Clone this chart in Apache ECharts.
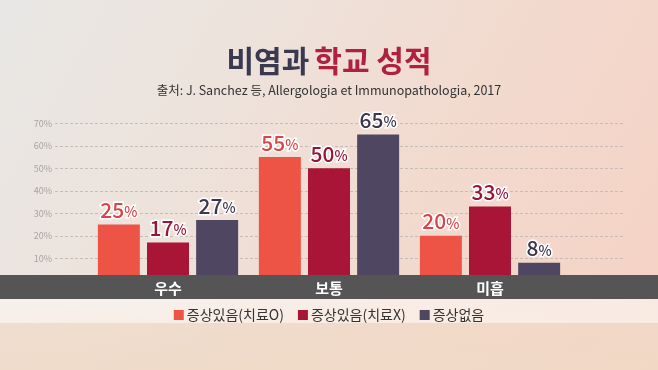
<!DOCTYPE html>
<html>
<head>
<meta charset="utf-8">
<script src="https://cdn.jsdelivr.net/npm/echarts@6/dist/echarts.min.js"></script>
<style>
html,body{margin:0;padding:0;}
#chart{width:658px;height:370px;}
</style>
</head>
<body>
<div id="chart"></div>
<script>
const categories = ['우수', '보통', '미흡'];
const seriesNames = ['증상있음(치료O)', '증상있음(치료X)', '증상없음'];
const treatedValues = [25, 55, 20];
const untreatedValues = [17, 50, 33];
const noSymptomValues = [27, 65, 8];
const yTickMax = 70;
const yTickStep = 10;

const barColors = ['#EE5446', '#A81537', '#4F4762'];
const labelColors = ['#D9464A', '#96163A', '#3C374B'];
const FONT = '"Noto Sans CJK KR", "Noto Sans", sans-serif';

const gridTop = 123.3, gridBottom = 370 - 280.8;

function makeSeries(name, values, idx) {
  return {
    name: name,
    type: 'bar',
    xAxisIndex: 0,
    yAxisIndex: 0,
    data: values,
    barWidth: 42,
    barGap: '17%',
    itemStyle: { color: barColors[idx] },
    z: 2,
    label: {
      show: true,
      position: 'top',
      distance: 4,
      formatter: function (p) { return '{n|' + p.value + '}{p|%}'; },
      textBorderColor: '#ffffff',
      textBorderWidth: 3,
      rich: {
        n: { fontFamily: FONT, fontSize: 21, fontWeight: 500, color: labelColors[idx], textBorderColor: '#fff', textBorderWidth: 3 },
        p: { fontFamily: FONT, fontSize: 14, fontWeight: 500, color: labelColors[idx], textBorderColor: '#fff', textBorderWidth: 3, padding: [4, 0, 0, 0] }
      }
    }
  };
}

const chart = echarts.init(document.getElementById('chart'), null, { renderer: 'canvas' });
chart.setOption({
  animation: false,
  backgroundColor: 'transparent',
  title: {
    text: '{a|비염과} {b|학교 성적}',
    subtext: '출처: J. Sanchez 등, Allergologia et Immunopathologia, 2017',
    left: 'center',
    top: 41,
    itemGap: 8,
    textStyle: {
      rich: {
        a: { fontFamily: FONT, fontSize: 30, fontWeight: 'bold', color: '#3A3950' },
        b: { fontFamily: FONT, fontSize: 30, fontWeight: 'bold', color: '#B0203F' }
      }
    },
    subtextStyle: { fontFamily: FONT, fontSize: 12.5, color: '#333333' }
  },
  legend: {
    data: seriesNames,
    left: 'center',
    top: 303,
    icon: 'rect',
    itemWidth: 10,
    itemHeight: 10,
    itemGap: 14,
    textStyle: { fontFamily: FONT, fontSize: 14, color: '#333333', padding: [0, 0, 0, -2] }
  },
  graphic: [
    {
      type: 'rect', z: -100, silent: true,
      shape: { x: 0, y: 0, width: 658, height: 370 },
      style: {
        fill: new echarts.graphic.LinearGradient(0, 0, 1, 1, [
          { offset: 0, color: '#E8E7E5' },
          { offset: 0.3, color: '#EDE3DC' },
          { offset: 0.6, color: '#F2DACF' },
          { offset: 1, color: '#F5D2C4' }
        ])
      }
    },
    {
      type: 'rect', z: -95, silent: true,
      shape: { x: 0, y: 290, width: 658, height: 80 },
      style: {
        fill: new echarts.graphic.LinearGradient(0, 0, 0, 1, [
          { offset: 0, color: 'rgba(240,218,198,0)' },
          { offset: 0.4, color: 'rgba(240,218,198,0.6)' },
          { offset: 1, color: 'rgba(240,218,198,0.8)' }
        ])
      }
    },
    {
      type: 'rect', z: -90, silent: true,
      shape: { x: 0, y: 299, width: 658, height: 24 },
      style: { fill: 'rgba(255,255,255,0.5)' }
    },
    {
      type: 'rect', z: 50, silent: true,
      shape: { x: 0, y: 275, width: 658, height: 24 },
      style: { fill: '#555555' }
    }
  ],
  grid: [
    { left: 87.5, width: 483, top: gridTop, bottom: gridBottom },
    { left: 55, right: 35, top: gridTop, bottom: gridBottom }
  ],
  xAxis: [
    {
      type: 'category', gridIndex: 0, data: categories, z: 100,
      axisLine: { show: false }, axisTick: { show: false },
      axisLabel: { margin: 0, fontFamily: FONT, fontSize: 15, fontWeight: 'bold', color: '#ffffff' }
    },
    { type: 'value', gridIndex: 1, show: false }
  ],
  yAxis: [
    { type: 'value', gridIndex: 0, min: 0, max: yTickMax, interval: yTickStep, show: false },
    {
      type: 'value', gridIndex: 1, min: 0, max: yTickMax, interval: yTickStep,
      axisLine: { show: false }, axisTick: { show: false },
      axisLabel: {
        margin: 3, fontFamily: FONT, fontSize: 9, color: '#A8A4A0',
        formatter: function (v) { return v === 0 ? '' : v + '%'; }
      },
      splitLine: { lineStyle: { type: [3, 2], color: '#C8BDB6', width: 1 } }
    }
  ],
  series: [
    makeSeries(seriesNames[0], treatedValues, 0),
    makeSeries(seriesNames[1], untreatedValues, 1),
    makeSeries(seriesNames[2], noSymptomValues, 2)
  ]
});
</script>
</body>
</html>
